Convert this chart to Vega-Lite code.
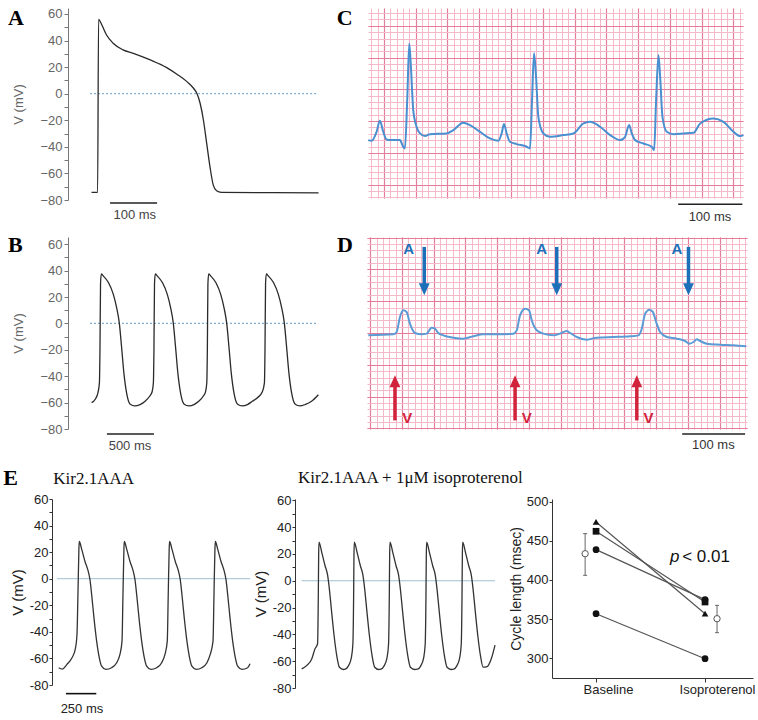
{
  "$schema": "https://vega.github.io/schema/vega-lite/v6.json",
  "padding": {"left": 3, "top": 7, "right": 0, "bottom": 0},
  "background": "white",
  "config": {"view": {"stroke": null}, "font": "Liberation Sans", "axis": {"grid": false}},
  "spacing": 14,
  "vconcat": [
    {
      "spacing": 8,
      "vconcat": [
        {
          "hconcat": [
            {
              "width": 252, "height": 192,
              "encoding": {
                "x": {"field": "t", "type": "quantitative", "scale": {"domain": [-64, 472], "nice": false, "zero": false}, "axis": null},
                "y": {"field": "v", "type": "quantitative", "scale": {"domain": [-80, 64.5], "nice": false, "zero": false},
                  "axis": {"values": [-80,-70,-60,-50,-40,-30,-20,-10,0,10,20,30,40,50,60], "labelExpr": "datum.value % 20 == 0 ? datum.label : ''", "tickSize": 4, "labelPadding": 2, "domainColor": "#777", "tickColor": "#777", "labelColor": "#666", "labelFontSize": 13, "title": "V (mV)", "titleColor": "#666", "titleFontSize": 13, "titleFontWeight": "normal", "titlePadding": 14}}
              },
              "layer": [
                {"data": {"values": [{"t": -17, "v": 0}, {"t": 468, "v": 0}]}, "mark": {"type": "line", "color": "#7fb0d2", "strokeDash": [2, 2], "strokeWidth": 1.3}},
                {"data": {"values": [
                  {"t": -14, "v": -74.2}, {"t": -1, "v": -74.2}, {"t": 1, "v": 56}, {"t": 8, "v": 51.7}, {"t": 18, "v": 44.2}, {"t": 32, "v": 38}, {"t": 53, "v": 33}, {"t": 75, "v": 30.4}, {"t": 111, "v": 25.4}, {"t": 146, "v": 19.6}, {"t": 167, "v": 14.8}, {"t": 189, "v": 9.1}, {"t": 203, "v": 4.1}, {"t": 210, "v": 0.3}, {"t": 217, "v": -7.2}, {"t": 224, "v": -19.8}, {"t": 231, "v": -37.4}, {"t": 238, "v": -55}, {"t": 245, "v": -68.8}, {"t": 252, "v": -73}, {"t": 262, "v": -74.2}, {"t": 469, "v": -74.6}
                ]}, "mark": {"type": "line", "color": "#2a2a2a", "strokeWidth": 1.3, "interpolate": "monotone"}},
                {"data": {"values": [{"t": 25.5, "t2": 125.5, "v": -82.3}]}, "mark": {"type": "rule", "color": "#222", "strokeWidth": 1.5}, "encoding": {"x2": {"field": "t2"}}},
                {"data": {"values": [{"t": 78, "v": -91.3, "label": "100 ms"}]}, "mark": {"type": "text", "fontSize": 13, "color": "#444"}, "encoding": {"text": {"field": "label"}}},
                {"data": {"values": [{"t": -191.5, "v": 51.7, "label": "A"}]}, "mark": {"type": "text", "font": "Liberation Serif", "fontWeight": "bold", "fontSize": 22, "align": "left", "baseline": "alphabetic", "color": "black"}, "encoding": {"text": {"field": "label"}}}
              ]
            },
            {
              "width": 375, "height": 190,
              "resolve": {"axis": {"x": "independent", "y": "independent"}},
              "layer": [
                {"data": {"values": [
                  {"t": -24.7, "v": -0.299}, {"t": -19.4, "v": -0.31}, {"t": -11.5, "v": -0.168}, {"t": -6.3, "v": 0.005}, {"t": -1.0, "v": -0.168}, {"t": 4.2, "v": -0.289}, {"t": 12.1, "v": -0.299}, {"t": 25.2, "v": -0.299}, {"t": 30.4, "v": -0.404}, {"t": 33.1, "v": -0.43}, {"t": 36.7, "v": 0.331}, {"t": 39.9, "v": 1.223}, {"t": 42.5, "v": 0.856}, {"t": 46.2, "v": 0.173}, {"t": 51.4, "v": -0.089}, {"t": 56.7, "v": -0.194}, {"t": 64.6, "v": -0.236}, {"t": 72.4, "v": -0.205}, {"t": 98.7, "v": -0.194}, {"t": 109.2, "v": -0.142}, {"t": 124.9, "v": -0.026}, {"t": 135.4, "v": -0.063}, {"t": 151.2, "v": -0.168}, {"t": 166.9, "v": -0.273}, {"t": 180.0, "v": -0.31}, {"t": 185.3, "v": -0.194}, {"t": 189.0, "v": -0.047}, {"t": 193.2, "v": -0.194}, {"t": 198.4, "v": -0.325}, {"t": 208.9, "v": -0.362}, {"t": 224.7, "v": -0.404}, {"t": 229.9, "v": -0.43}, {"t": 233.1, "v": 0.331}, {"t": 236.2, "v": 1.066}, {"t": 239.4, "v": 0.698}, {"t": 243.0, "v": 0.068}, {"t": 250.9, "v": -0.194}, {"t": 261.4, "v": -0.247}, {"t": 282.4, "v": -0.22}, {"t": 298.2, "v": -0.194}, {"t": 314.0, "v": -0.037}, {"t": 324.4, "v": -0.011}, {"t": 340.2, "v": -0.089}, {"t": 356.0, "v": -0.22}, {"t": 371.7, "v": -0.299}, {"t": 379.5, "v": -0.247}, {"t": 385.8, "v": -0.063}, {"t": 390.0, "v": -0.194}, {"t": 395.3, "v": -0.299}, {"t": 408.4, "v": -0.352}, {"t": 421.5, "v": -0.404}, {"t": 425.2, "v": -0.457}, {"t": 428.3, "v": 0.331}, {"t": 432.0, "v": 1.039}, {"t": 434.6, "v": 0.698}, {"t": 438.3, "v": 0.068}, {"t": 445.1, "v": -0.168}, {"t": 455.6, "v": -0.205}, {"t": 471.4, "v": -0.194}, {"t": 487.1, "v": -0.184}, {"t": 497.6, "v": -0.037}, {"t": 518.6, "v": 0.042}, {"t": 534.3, "v": -0.011}, {"t": 550.1, "v": -0.168}, {"t": 560.6, "v": -0.236}, {"t": 565.8, "v": -0.22}
                ]},
                  "mark": {"type": "line", "color": "#4a8fd0", "strokeWidth": 2, "interpolate": "monotone"},
                  "encoding": {
                    "x": {"field": "t", "type": "quantitative", "scale": {"domain": [-25, 565], "nice": false, "zero": false}, "axis": {"grid": true, "gridColor": "#f5b9ca", "gridWidth": 1, "gridOpacity": 1, "tickCount": 60, "labels": false, "ticks": false, "domain": false, "title": null}},
                    "y": {"field": "v", "type": "quantitative", "scale": {"domain": [-1.21, 1.78], "nice": false, "zero": false}, "axis": {"grid": true, "gridColor": "#f5b9ca", "gridWidth": 1, "gridOpacity": 1, "tickCount": 30, "labels": false, "ticks": false, "domain": false, "title": null}}
                  }
                },
                {"data": {"values": [{"t": 463, "t2": 564, "v": -1.307}]},
                  "mark": {"type": "rule", "color": "#222", "strokeWidth": 1.5},
                  "encoding": {
                    "x": {"field": "t", "type": "quantitative", "scale": {"domain": [-25, 565], "nice": false, "zero": false}, "axis": {"grid": true, "gridColor": "#e57c9a", "gridWidth": 1.2, "gridOpacity": 1, "tickCount": 12, "labels": false, "ticks": false, "domain": false, "title": null}},
                    "x2": {"field": "t2"},
                    "y": {"field": "v", "type": "quantitative", "scale": {"domain": [-1.21, 1.78], "nice": false, "zero": false}, "axis": {"grid": true, "gridColor": "#e57c9a", "gridWidth": 1.2, "gridOpacity": 1, "tickCount": 6, "labels": false, "ticks": false, "domain": false, "title": null}}
                  }
                },
                {"data": {"values": [{"t": 513, "v": -1.51, "label": "100 ms"}]},
                  "mark": {"type": "text", "fontSize": 13, "color": "#333"},
                  "encoding": {
                    "x": {"field": "t", "type": "quantitative", "scale": {"domain": [-25, 565], "nice": false, "zero": false}, "axis": null},
                    "y": {"field": "v", "type": "quantitative", "scale": {"domain": [-1.21, 1.78], "nice": false, "zero": false}, "axis": null},
                    "text": {"field": "label"}
                  }
                },
                {"data": {"values": [{"t": -74, "v": 1.512, "label": "C"}]},
                  "mark": {"type": "text", "font": "Liberation Serif", "fontWeight": "bold", "fontSize": 22, "align": "left", "baseline": "alphabetic", "color": "black"},
                  "encoding": {
                    "x": {"field": "t", "type": "quantitative", "scale": {"domain": [-25, 565], "nice": false, "zero": false}, "axis": null},
                    "y": {"field": "v", "type": "quantitative", "scale": {"domain": [-1.21, 1.78], "nice": false, "zero": false}, "axis": null},
                    "text": {"field": "label"}
                  }
                }
              ]
            }
          ],
          "spacing": 48,
          "bounds": "flush"
        },
        {
          "hconcat": [
            {
              "width": 252, "height": 192,
              "encoding": {
                "x": {"field": "t", "type": "quantitative", "scale": {"domain": [-340, 2340], "nice": false, "zero": false}, "axis": null},
                "y": {"field": "v", "type": "quantitative", "scale": {"domain": [-80, 65.5], "nice": false, "zero": false},
                  "axis": {"values": [-80,-70,-60,-50,-40,-30,-20,-10,0,10,20,30,40,50,60], "labelExpr": "datum.value % 20 == 0 ? datum.label : ''", "tickSize": 4, "labelPadding": 2, "domainColor": "#777", "tickColor": "#777", "labelColor": "#666", "labelFontSize": 13, "title": "V (mV)", "titleColor": "#666", "titleFontSize": 13, "titleFontWeight": "normal", "titlePadding": 14}}
              },
              "layer": [
                {"data": {"values": [{"t": -106, "v": 0}, {"t": 2320, "v": 0}]}, "mark": {"type": "line", "color": "#7fb0d2", "strokeDash": [2, 2], "strokeWidth": 1.3}},
                {"data": {"values": [
                  {"t": -89, "v": -60}, {"t": -50, "v": -57.5}, {"t": -20, "v": -52}, {"t": -6, "v": -45}, {"t": 0, "v": -20}, {"t": 6, "v": 30}, {"t": 14, "v": 37.5}, {"t": 35, "v": 36}, {"t": 90, "v": 31}, {"t": 142, "v": 22}, {"t": 177, "v": 12}, {"t": 206, "v": 0}, {"t": 230, "v": -18}, {"t": 255, "v": -38}, {"t": 284, "v": -53}, {"t": 319, "v": -61}, {"t": 372, "v": -62.5}, {"t": 426, "v": -61.5}, {"t": 480, "v": -59}, {"t": 530, "v": -55}, {"t": 554, "v": -52}, {"t": 568, "v": -45},
                  {"t": 574, "v": -20}, {"t": 580, "v": 30}, {"t": 588, "v": 37.5}, {"t": 609, "v": 36}, {"t": 664, "v": 31}, {"t": 716, "v": 22}, {"t": 751, "v": 12}, {"t": 780, "v": 0}, {"t": 804, "v": -18}, {"t": 829, "v": -38}, {"t": 858, "v": -53}, {"t": 893, "v": -61}, {"t": 946, "v": -62.5}, {"t": 1000, "v": -61.5}, {"t": 1050, "v": -59}, {"t": 1100, "v": -55}, {"t": 1122, "v": -52}, {"t": 1136, "v": -45},
                  {"t": 1142, "v": -20}, {"t": 1148, "v": 30}, {"t": 1156, "v": 37.5}, {"t": 1177, "v": 36}, {"t": 1232, "v": 31}, {"t": 1284, "v": 22}, {"t": 1319, "v": 12}, {"t": 1348, "v": 0}, {"t": 1372, "v": -18}, {"t": 1397, "v": -38}, {"t": 1426, "v": -53}, {"t": 1461, "v": -61}, {"t": 1514, "v": -62.5}, {"t": 1568, "v": -61.5}, {"t": 1620, "v": -59}, {"t": 1680, "v": -56}, {"t": 1725, "v": -52}, {"t": 1749, "v": -45},
                  {"t": 1755, "v": -20}, {"t": 1761, "v": 30}, {"t": 1769, "v": 37.5}, {"t": 1790, "v": 36}, {"t": 1845, "v": 31}, {"t": 1897, "v": 22}, {"t": 1932, "v": 12}, {"t": 1961, "v": 0}, {"t": 1985, "v": -18}, {"t": 2010, "v": -38}, {"t": 2039, "v": -53}, {"t": 2074, "v": -61}, {"t": 2127, "v": -62.5}, {"t": 2181, "v": -61.5}, {"t": 2250, "v": -59}, {"t": 2323, "v": -54}
                ]}, "mark": {"type": "line", "color": "#2a2a2a", "strokeWidth": 1.3, "interpolate": "monotone"}},
                {"data": {"values": [{"t": 74, "t2": 574, "v": -83.8}]}, "mark": {"type": "rule", "color": "#222", "strokeWidth": 1.5}, "encoding": {"x2": {"field": "t2"}}},
                {"data": {"values": [{"t": 319, "v": -92.6, "label": "500 ms"}]}, "mark": {"type": "text", "fontSize": 13, "color": "#444"}, "encoding": {"text": {"field": "label"}}},
                {"data": {"values": [{"t": -979, "v": 54.2, "label": "B"}]}, "mark": {"type": "text", "font": "Liberation Serif", "fontWeight": "bold", "fontSize": 22, "align": "left", "baseline": "alphabetic", "color": "black"}, "encoding": {"text": {"field": "label"}}}
              ]
            },
            {
              "width": 380, "height": 192,
              "resolve": {"axis": {"x": "independent", "y": "independent"}},
              "layer": [
                {"data": {"values": [
                  {"t": -53.0, "v": -0.037}, {"t": -13.6, "v": -0.021}, {"t": -8.4, "v": 0.016}, {"t": -3.1, "v": 0.252}, {"t": 2.1, "v": 0.357}, {"t": 7.3, "v": 0.331}, {"t": 12.6, "v": 0.147}, {"t": 20.5, "v": 0}, {"t": 31.0, "v": -0.021}, {"t": 38.8, "v": -0.01}, {"t": 46.7, "v": 0.084}, {"t": 52.0, "v": 0.068}, {"t": 57.2, "v": 0}, {"t": 65.1, "v": -0.037}, {"t": 80.8, "v": -0.073}, {"t": 96.6, "v": -0.089}, {"t": 112.3, "v": -0.052}, {"t": 128.1, "v": -0.021}, {"t": 149.1, "v": -0.021}, {"t": 175.3, "v": -0.01}, {"t": 180.6, "v": 0.042}, {"t": 185.8, "v": 0.278}, {"t": 193.7, "v": 0.383}, {"t": 200.0, "v": 0.357}, {"t": 204.2, "v": 0.2}, {"t": 212.1, "v": 0.042}, {"t": 222.6, "v": -0.01}, {"t": 238.3, "v": -0.037}, {"t": 248.8, "v": -0.01}, {"t": 259.3, "v": 0.031}, {"t": 264.6, "v": 0}, {"t": 275.1, "v": -0.063}, {"t": 290.8, "v": -0.105}, {"t": 306.6, "v": -0.073}, {"t": 332.8, "v": -0.063}, {"t": 359.1, "v": -0.052}, {"t": 372.2, "v": -0.037}, {"t": 377.4, "v": 0.068}, {"t": 382.7, "v": 0.304}, {"t": 389.5, "v": 0.367}, {"t": 394.8, "v": 0.331}, {"t": 400.0, "v": 0.173}, {"t": 406.3, "v": 0.016}, {"t": 416.8, "v": -0.063}, {"t": 432.6, "v": -0.089}, {"t": 445.7, "v": -0.126}, {"t": 452.5, "v": -0.168}, {"t": 458.8, "v": -0.142}, {"t": 464.0, "v": -0.1}, {"t": 469.3, "v": -0.126}, {"t": 479.8, "v": -0.168}, {"t": 500.8, "v": -0.184}, {"t": 521.8, "v": -0.194}, {"t": 541.7, "v": -0.21}
                ]},
                  "mark": {"type": "line", "color": "#5b9bd5", "strokeWidth": 2, "interpolate": "monotone"},
                  "encoding": {
                    "x": {"field": "t", "type": "quantitative", "scale": {"domain": [-55, 543], "nice": false, "zero": false}, "axis": {"grid": true, "gridColor": "#f5b9ca", "gridWidth": 1, "gridOpacity": 1, "tickCount": 60, "labels": false, "ticks": false, "domain": false, "title": null}},
                    "y": {"field": "v", "type": "quantitative", "scale": {"domain": [-1.51, 1.51], "nice": false, "zero": false}, "axis": {"grid": true, "gridColor": "#f5b9ca", "gridWidth": 1, "gridOpacity": 1, "tickCount": 30, "labels": false, "ticks": false, "domain": false, "title": null}}
                  }
                },
                {"data": {"values": [{"t": 441, "t2": 540, "v": -1.59}]},
                  "mark": {"type": "rule", "color": "#222", "strokeWidth": 1.5},
                  "encoding": {
                    "x": {"field": "t", "type": "quantitative", "scale": {"domain": [-55, 543], "nice": false, "zero": false}, "axis": {"grid": true, "gridColor": "#e57c9a", "gridWidth": 1.2, "gridOpacity": 1, "tickCount": 12, "labels": false, "ticks": false, "domain": false, "title": null}},
                    "x2": {"field": "t2"},
                    "y": {"field": "v", "type": "quantitative", "scale": {"domain": [-1.51, 1.51], "nice": false, "zero": false}, "axis": {"grid": true, "gridColor": "#e57c9a", "gridWidth": 1.2, "gridOpacity": 1, "tickCount": 6, "labels": false, "ticks": false, "domain": false, "title": null}}
                  }
                },
                {"data": {"values": [{"t": 35.1, "v": 1.354, "v2": 0.756}, {"t": 243.6, "v": 1.354, "v2": 0.756}, {"t": 450.9, "v": 1.354, "v2": 0.756}]},
                  "mark": {"type": "rule", "color": "#1d6fb8", "strokeWidth": 3.5},
                  "encoding": {
                    "x": {"field": "t", "type": "quantitative", "scale": {"domain": [-55, 543], "nice": false, "zero": false}, "axis": null},
                    "y": {"field": "v", "type": "quantitative", "scale": {"domain": [-1.51, 1.51], "nice": false, "zero": false}, "axis": null},
                    "y2": {"field": "v2"}
                  }
                },
                {"data": {"values": [{"t": 35.1, "v": 0.688}, {"t": 243.6, "v": 0.688}, {"t": 450.9, "v": 0.688}]},
                  "mark": {"type": "point", "shape": "M-0.9,-1L0.9,-1L0,1Z", "filled": true, "size": 144, "color": "#1d6fb8", "opacity": 1},
                  "encoding": {
                    "x": {"field": "t", "type": "quantitative", "scale": {"domain": [-55, 543], "nice": false, "zero": false}, "axis": null},
                    "y": {"field": "v", "type": "quantitative", "scale": {"domain": [-1.51, 1.51], "nice": false, "zero": false}, "axis": null}
                  }
                },
                {"data": {"values": [{"t": -11, "v": -1.375, "v2": -0.84}, {"t": 178, "v": -1.375, "v2": -0.84}, {"t": 369.6, "v": -1.375, "v2": -0.84}]},
                  "mark": {"type": "rule", "color": "#d2233c", "strokeWidth": 3.5},
                  "encoding": {
                    "x": {"field": "t", "type": "quantitative", "scale": {"domain": [-55, 543], "nice": false, "zero": false}, "axis": null},
                    "y": {"field": "v", "type": "quantitative", "scale": {"domain": [-1.51, 1.51], "nice": false, "zero": false}, "axis": null},
                    "y2": {"field": "v2"}
                  }
                },
                {"data": {"values": [{"t": -11, "v": -0.759}, {"t": 178, "v": -0.759}, {"t": 369.6, "v": -0.759}]},
                  "mark": {"type": "point", "shape": "M-0.9,1L0.9,1L0,-1Z", "filled": true, "size": 144, "color": "#d2233c", "opacity": 1},
                  "encoding": {
                    "x": {"field": "t", "type": "quantitative", "scale": {"domain": [-55, 543], "nice": false, "zero": false}, "axis": null},
                    "y": {"field": "v", "type": "quantitative", "scale": {"domain": [-1.51, 1.51], "nice": false, "zero": false}, "axis": null}
                  }
                },
                {"data": {"values": [{"t": 10.5, "v": 1.328, "label": "A"}, {"t": 220, "v": 1.328, "label": "A"}, {"t": 432.6, "v": 1.328, "label": "A"}]},
                  "mark": {"type": "text", "fontSize": 15, "fontWeight": "bold", "color": "#1d6fb8"},
                  "encoding": {
                    "x": {"field": "t", "type": "quantitative", "scale": {"domain": [-55, 543], "nice": false, "zero": false}, "axis": null},
                    "y": {"field": "v", "type": "quantitative", "scale": {"domain": [-1.51, 1.51], "nice": false, "zero": false}, "axis": null},
                    "text": {"field": "label"}
                  }
                },
                {"data": {"values": [{"t": 8.4, "v": -1.334, "label": "V"}, {"t": 196.4, "v": -1.334, "label": "V"}, {"t": 388, "v": -1.334, "label": "V"}]},
                  "mark": {"type": "text", "fontSize": 15, "fontWeight": "bold", "color": "#d2233c"},
                  "encoding": {
                    "x": {"field": "t", "type": "quantitative", "scale": {"domain": [-55, 543], "nice": false, "zero": false}, "axis": null},
                    "y": {"field": "v", "type": "quantitative", "scale": {"domain": [-1.51, 1.51], "nice": false, "zero": false}, "axis": null},
                    "text": {"field": "label"}
                  }
                },
                {"data": {"values": [{"t": 490, "v": -1.76, "label": "100 ms"}]},
                  "mark": {"type": "text", "fontSize": 13, "color": "#333"},
                  "encoding": {
                    "x": {"field": "t", "type": "quantitative", "scale": {"domain": [-55, 543], "nice": false, "zero": false}, "axis": null},
                    "y": {"field": "v", "type": "quantitative", "scale": {"domain": [-1.51, 1.51], "nice": false, "zero": false}, "axis": null},
                    "text": {"field": "label"}
                  }
                },
                {"data": {"values": [{"t": -102.4, "v": 1.276, "label": "D"}]},
                  "mark": {"type": "text", "font": "Liberation Serif", "fontWeight": "bold", "fontSize": 22, "align": "left", "baseline": "alphabetic", "color": "black"},
                  "encoding": {
                    "x": {"field": "t", "type": "quantitative", "scale": {"domain": [-55, 543], "nice": false, "zero": false}, "axis": null},
                    "y": {"field": "v", "type": "quantitative", "scale": {"domain": [-1.51, 1.51], "nice": false, "zero": false}, "axis": null},
                    "text": {"field": "label"}
                  }
                }
              ]
            }
          ],
          "spacing": 47,
          "bounds": "flush"
        }
      ]
    },
    {
      "hconcat": [
        {
          "width": 183, "height": 186,
          "encoding": {
            "x": {"field": "t", "type": "quantitative", "scale": {"domain": [-93, 1415], "nice": false, "zero": false}, "axis": null},
            "y": {"field": "v", "type": "quantitative", "scale": {"domain": [-80, 60], "nice": false, "zero": false},
              "axis": {"offset": 16, "values": [-80,-70,-60,-50,-40,-30,-20,-10,0,10,20,30,40,50,60], "labelExpr": "datum.value % 20 == 0 ? (datum.value < 0 ? '-' + abs(datum.value) : '' + datum.value) : ''", "tickSize": 3, "labelPadding": 1, "domainColor": "#333", "tickColor": "#333", "labelColor": "#222", "labelFontSize": 13, "title": "V (mV)", "titleColor": "#222", "titleFontSize": 15, "titleFontWeight": "normal", "titlePadding": 4}}
          },
          "layer": [
            {"data": {"values": [{"t": -184, "v": 0}, {"t": 1409, "v": 0}]}, "mark": {"type": "line", "color": "#9fc0cf", "strokeWidth": 1}},
            {"data": {"values": [
              {"t": -170, "v": -67}, {"t": -140, "v": -68}, {"t": -102, "v": -64.5}, {"t": -60, "v": -59.5}, {"t": -33, "v": -53}, {"t": -19, "v": -42}, {"t": -11, "v": -12}, {"t": -3, "v": 23}, {"t": 0, "v": 28}, {"t": 19, "v": 22.5}, {"t": 47, "v": 13}, {"t": 74, "v": 5.5}, {"t": 88, "v": -0.75}, {"t": 102, "v": -12}, {"t": 121, "v": -29.5}, {"t": 143, "v": -47}, {"t": 165, "v": -59.5}, {"t": 184, "v": -65.75}, {"t": 220, "v": -68.25}, {"t": 266, "v": -67}, {"t": 308, "v": -63.25}, {"t": 335, "v": -57}, {"t": 352, "v": -47},
              {"t": 360, "v": -12}, {"t": 368, "v": 23}, {"t": 371, "v": 28}, {"t": 390, "v": 22.5}, {"t": 418, "v": 13}, {"t": 445, "v": 5.5}, {"t": 459, "v": -0.75}, {"t": 473, "v": -12}, {"t": 492, "v": -29.5}, {"t": 514, "v": -47}, {"t": 536, "v": -59.5}, {"t": 555, "v": -65.75}, {"t": 591, "v": -68.25}, {"t": 637, "v": -67}, {"t": 679, "v": -63.25}, {"t": 706, "v": -57}, {"t": 725, "v": -47},
              {"t": 733, "v": -12}, {"t": 741, "v": 23}, {"t": 744, "v": 28}, {"t": 763, "v": 22.5}, {"t": 791, "v": 13}, {"t": 818, "v": 5.5}, {"t": 832, "v": -0.75}, {"t": 846, "v": -12}, {"t": 865, "v": -29.5}, {"t": 887, "v": -47}, {"t": 909, "v": -59.5}, {"t": 928, "v": -65.75}, {"t": 964, "v": -68.25}, {"t": 1010, "v": -67}, {"t": 1052, "v": -63.25}, {"t": 1079, "v": -57}, {"t": 1102, "v": -47},
              {"t": 1110, "v": -12}, {"t": 1118, "v": 23}, {"t": 1121, "v": 28}, {"t": 1140, "v": 22.5}, {"t": 1168, "v": 13}, {"t": 1195, "v": 5.5}, {"t": 1209, "v": -0.75}, {"t": 1223, "v": -12}, {"t": 1242, "v": -29.5}, {"t": 1264, "v": -47}, {"t": 1286, "v": -59.5}, {"t": 1305, "v": -65.75}, {"t": 1341, "v": -68.25}, {"t": 1387, "v": -67}, {"t": 1407, "v": -64}
            ]}, "mark": {"type": "line", "color": "#333", "strokeWidth": 1.3, "interpolate": "monotone"}},
            {"data": {"values": [{"t": -110, "t2": 140, "v": -86.5}]}, "mark": {"type": "rule", "color": "#111", "strokeWidth": 1.6}, "encoding": {"x2": {"field": "t2"}}},
            {"data": {"values": [{"t": 22, "v": -98.25, "label": "250 ms"}]}, "mark": {"type": "text", "fontSize": 13, "color": "#222"}, "encoding": {"text": {"field": "label"}}},
            {"data": {"values": [{"t": -626, "v": 70.5, "label": "E"}]}, "mark": {"type": "text", "font": "Liberation Serif", "fontWeight": "bold", "fontSize": 22, "align": "left", "baseline": "alphabetic", "color": "black"}, "encoding": {"text": {"field": "label"}}},
            {"data": {"values": [{"t": -214, "v": 71.3, "label": "Kir2.1AAA"}]}, "mark": {"type": "text", "font": "Liberation Serif", "fontSize": 17, "align": "left", "baseline": "alphabetic", "color": "#111"}, "encoding": {"text": {"field": "label"}}}
          ]
        },
        {
          "width": 213, "height": 189,
          "encoding": {
            "x": {"field": "t", "type": "quantitative", "scale": {"domain": [-198, 1557], "nice": false, "zero": false}, "axis": null},
            "y": {"field": "v", "type": "quantitative", "scale": {"domain": [-80, 61], "nice": false, "zero": false},
              "axis": {"values": [-80,-70,-60,-50,-40,-30,-20,-10,0,10,20,30,40,50,60], "labelExpr": "datum.value % 20 == 0 ? (datum.value < 0 ? '-' + abs(datum.value) : '' + datum.value) : ''", "tickSize": 3, "labelPadding": 1, "domainColor": "#333", "tickColor": "#333", "labelColor": "#222", "labelFontSize": 13, "title": "V (mV)", "titleColor": "#222", "titleFontSize": 15, "titleFontWeight": "normal", "titlePadding": 4}}
          },
          "layer": [
            {"data": {"values": [{"t": -143, "v": 0}, {"t": 1450, "v": 0}]}, "mark": {"type": "line", "color": "#9fc0cf", "strokeWidth": 1}},
            {"data": {"values": [
              {"t": -143, "v": -65.7}, {"t": -102, "v": -63.3}, {"t": -60, "v": -58.3}, {"t": -33, "v": -50.8}, {"t": -12, "v": -47}, {"t": -6, "v": -12}, {"t": -3, "v": 20}, {"t": 0, "v": 28.9}, {"t": 22, "v": 21.4}, {"t": 49, "v": 11.4}, {"t": 71, "v": 4}, {"t": 85, "v": -6}, {"t": 104, "v": -23.4}, {"t": 124, "v": -40.8}, {"t": 146, "v": -55.8}, {"t": 168, "v": -64.5}, {"t": 201, "v": -66.2},
              {"t": 216, "v": -66}, {"t": 241, "v": -63.7}, {"t": 266, "v": -57.5}, {"t": 279, "v": -47}, {"t": 285, "v": -12}, {"t": 288, "v": 20}, {"t": 291, "v": 28.9}, {"t": 313, "v": 21.4}, {"t": 340, "v": 11.4}, {"t": 362, "v": 4}, {"t": 376, "v": -6}, {"t": 395, "v": -23.4}, {"t": 415, "v": -40.8}, {"t": 437, "v": -55.8}, {"t": 459, "v": -64.5}, {"t": 492, "v": -66.2},
              {"t": 510, "v": -66}, {"t": 535, "v": -63.7}, {"t": 560, "v": -57.5}, {"t": 573, "v": -47}, {"t": 579, "v": -12}, {"t": 582, "v": 20}, {"t": 585, "v": 28.9}, {"t": 607, "v": 21.4}, {"t": 634, "v": 11.4}, {"t": 656, "v": 4}, {"t": 670, "v": -6}, {"t": 689, "v": -23.4}, {"t": 709, "v": -40.8}, {"t": 731, "v": -55.8}, {"t": 753, "v": -64.5}, {"t": 786, "v": -66.2},
              {"t": 812, "v": -66}, {"t": 837, "v": -63.7}, {"t": 862, "v": -57.5}, {"t": 875, "v": -47}, {"t": 881, "v": -12}, {"t": 884, "v": 20}, {"t": 887, "v": 28.9}, {"t": 909, "v": 21.4}, {"t": 936, "v": 11.4}, {"t": 958, "v": 4}, {"t": 972, "v": -6}, {"t": 991, "v": -23.4}, {"t": 1011, "v": -40.8}, {"t": 1033, "v": -55.8}, {"t": 1055, "v": -64.5}, {"t": 1088, "v": -66.2},
              {"t": 1109, "v": -66}, {"t": 1134, "v": -63.7}, {"t": 1159, "v": -57.5}, {"t": 1172, "v": -47}, {"t": 1178, "v": -12}, {"t": 1181, "v": 20}, {"t": 1184, "v": 28.9}, {"t": 1206, "v": 21.4}, {"t": 1233, "v": 11.4}, {"t": 1255, "v": 4}, {"t": 1269, "v": -6}, {"t": 1288, "v": -23.4}, {"t": 1308, "v": -40.8}, {"t": 1330, "v": -55.8}, {"t": 1352, "v": -64.5}, {"t": 1385, "v": -64}, {"t": 1420, "v": -58}, {"t": 1450, "v": -48}
            ]}, "mark": {"type": "line", "color": "#333", "strokeWidth": 1.3, "interpolate": "monotone"}},
            {"data": {"values": [{"t": -173, "v": 72.9, "label": "Kir2.1AAA + 1μM isoproterenol"}]}, "mark": {"type": "text", "font": "Liberation Serif", "fontSize": 17, "align": "left", "baseline": "alphabetic", "color": "#111"}, "encoding": {"text": {"field": "label"}}}
          ]
        },
        {
          "width": 201, "height": 179,
          "encoding": {
            "x": {"field": "c", "type": "quantitative", "scale": {"domain": [0.596, 2.44], "nice": false, "zero": false},
              "axis": {"values": [1, 2], "labelExpr": "datum.value == 1 ? 'Baseline' : 'Isoproterenol'", "tickSize": 4, "labelPadding": 1, "labelOffset": 12, "domainColor": "#333", "tickColor": "#333", "labelColor": "#222", "labelFontSize": 13, "title": null}},
            "y": {"field": "len", "type": "quantitative", "scale": {"domain": [274.4, 503.8], "nice": false, "zero": false},
              "axis": {"values": [300, 350, 400, 450, 500], "tickSize": 3, "labelPadding": 1, "domainColor": "#333", "tickColor": "#333", "labelColor": "#222", "labelFontSize": 13, "title": "Cycle length (msec)", "titleColor": "#222", "titleFontSize": 14, "titleFontWeight": "normal", "titlePadding": 3}}
          },
          "layer": [
            {"data": {"values": [
              {"subj": "s1", "shape": "triangle-up", "c": 1, "len": 474.4}, {"subj": "s1", "shape": "triangle-up", "c": 2, "len": 356.8},
              {"subj": "s2", "shape": "square", "c": 1, "len": 462.4}, {"subj": "s2", "shape": "square", "c": 2, "len": 371.8},
              {"subj": "s3", "shape": "circle", "c": 1, "len": 438.9}, {"subj": "s3", "shape": "circle", "c": 2, "len": 374.8},
              {"subj": "s4", "shape": "circle", "c": 1, "len": 356.8}, {"subj": "s4", "shape": "circle", "c": 2, "len": 299.1}
            ]},
              "layer": [
                {"mark": {"type": "line", "color": "#555", "strokeWidth": 1.2}, "encoding": {"detail": {"field": "subj"}}},
                {"mark": {"type": "point", "filled": true, "size": 45, "color": "#111", "opacity": 1}, "encoding": {"shape": {"field": "shape", "type": "nominal", "scale": null}}}
              ]
            },
            {"data": {"values": [{"c": 0.9, "len": 406, "hi": 459.4}, {"c": 2.11, "len": 332.5, "hi": 367.5}]}, "mark": {"type": "rule", "color": "#666", "strokeWidth": 1}, "encoding": {"y2": {"field": "hi"}}},
            {"data": {"values": [{"c": 0.9, "len": 406}, {"c": 0.9, "len": 459.4}, {"c": 2.11, "len": 332.5}, {"c": 2.11, "len": 367.5}]}, "mark": {"type": "tick", "orient": "horizontal", "size": 4, "thickness": 1, "color": "#666", "opacity": 1}},
            {"data": {"values": [{"c": 0.9, "len": 433.7}, {"c": 2.11, "len": 350.4}]}, "mark": {"type": "point", "filled": true, "fill": "white", "stroke": "#555", "strokeWidth": 1, "size": 40, "opacity": 1}},
            {"data": {"values": [{"c": 1.679, "len": 429.5, "label": "p"}]}, "mark": {"type": "text", "fontSize": 17, "fontStyle": "italic", "align": "left", "color": "#111"}, "encoding": {"text": {"field": "label"}}},
            {"data": {"values": [{"c": 1.79, "len": 429.5, "label": "< 0.01"}]}, "mark": {"type": "text", "fontSize": 17, "align": "left", "color": "#111"}, "encoding": {"text": {"field": "label"}}}
          ]
        }
      ],
      "spacing": 44,
      "bounds": "flush"
    }
  ]
}
